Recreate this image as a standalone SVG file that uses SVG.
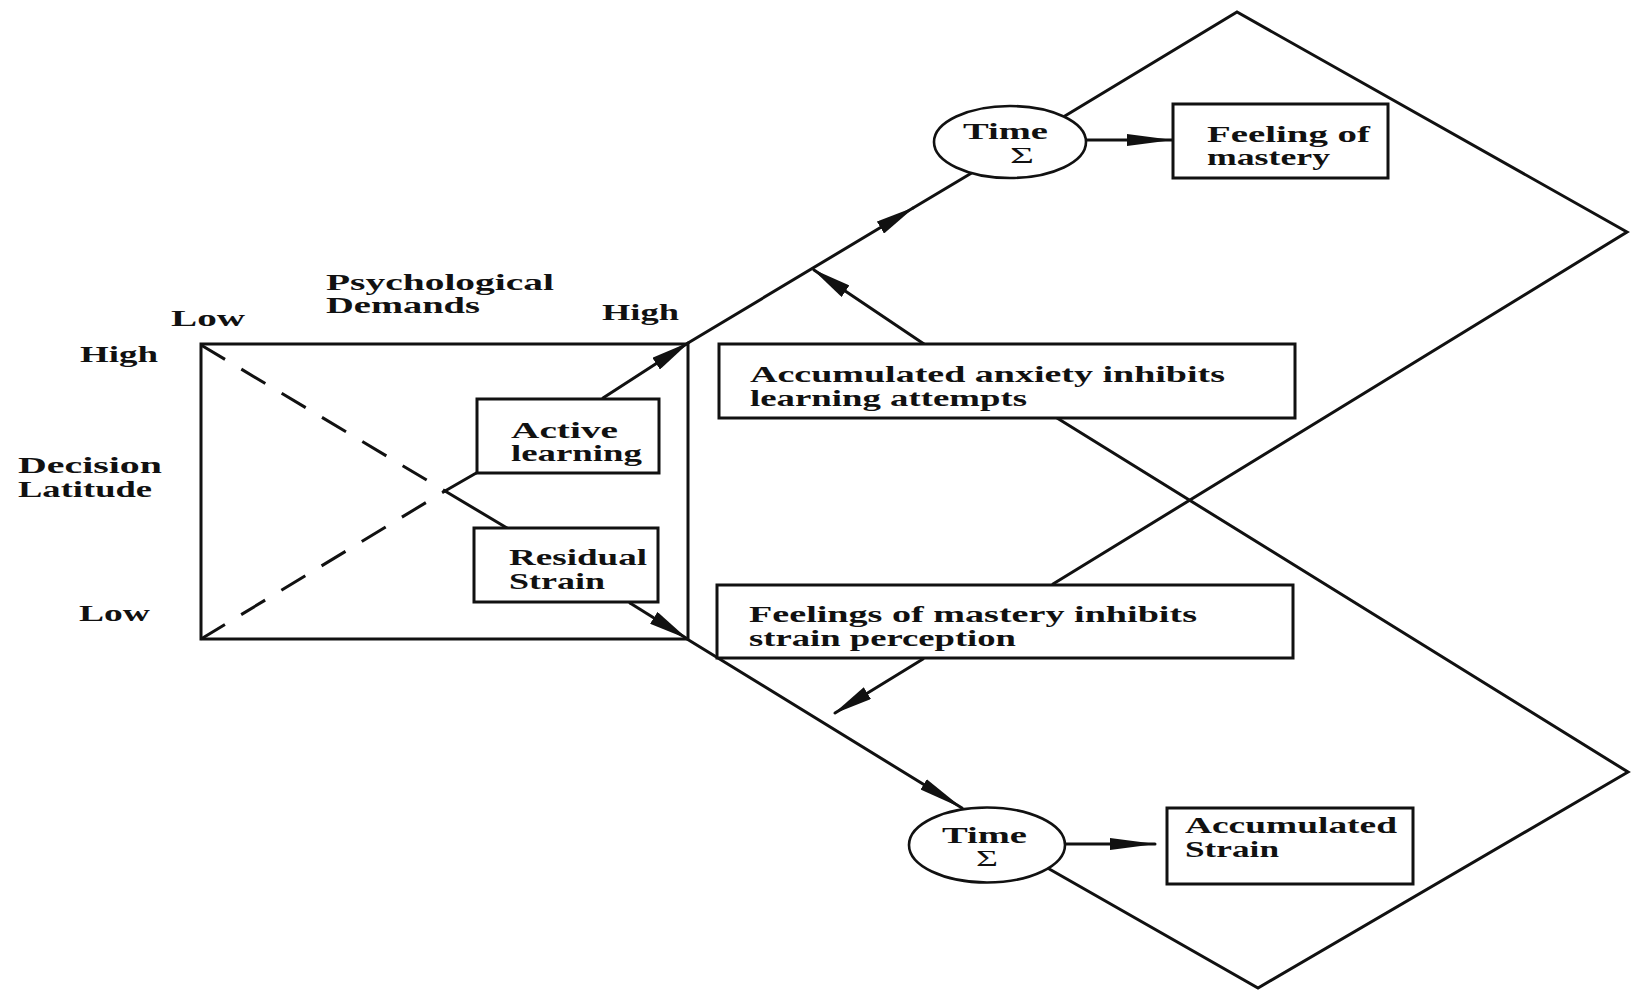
<svg xmlns="http://www.w3.org/2000/svg" width="1631" height="991" viewBox="0 0 1631 991">
<defs>
<style>
.ln{fill:none;stroke:#111;stroke-width:3;stroke-linecap:round;stroke-linejoin:miter}
.dash{fill:none;stroke:#111;stroke-width:3;stroke-dasharray:28 19}
.box{fill:#fff;stroke:#111;stroke-width:3}
.circ{fill:#fff;stroke:#111;stroke-width:2.6}
text{font-family:"Liberation Serif","Times New Roman",serif;font-size:23px;font-weight:bold;fill:#111}
text.sig{font-weight:normal}
</style>
<marker id="ah" markerUnits="userSpaceOnUse" markerWidth="40" markerHeight="14" refX="38" refY="7" orient="auto">
<path d="M0,0 L40,7 L0,14 z" fill="#111"/>
</marker>
<marker id="ahL" markerUnits="userSpaceOnUse" markerWidth="46" markerHeight="14" refX="45" refY="7" orient="auto">
<path d="M0,1 L46,7 L0,13 z" fill="#111"/>
</marker>
</defs>
<rect width="1631" height="991" fill="#fff"/>

<g id="connectors">
<path class="dash" d="M201,345 L445,491"/>
<path class="dash" d="M201,639 L445,491"/>
<path class="ln" d="M445,491 L507,528"/>
<path class="ln" d="M445,491 L478,472"/>
<path class="ln" d="M603,398 L688,343" marker-end="url(#ah)"/>
<path class="ln" d="M630,603 L686,638" marker-end="url(#ah)"/>
<path class="ln" d="M688,343 L913,208" marker-end="url(#ah)"/>
<path class="ln" d="M913,208 L985,165"/>
<path class="ln" d="M1050,125 L1237,12 L1627,232 L1053,584"/>
<path class="ln" d="M1057,418 L1628,772 L1258,988 L1030,858"/>
<path class="ln" d="M687,639 L962,808" marker-end="url(#ahL)"/>
<path class="ln" d="M924,344 L814,270" marker-end="url(#ah)"/>
<path class="ln" d="M923,659 L835,713" marker-end="url(#ah)"/>
<path class="ln" d="M1084,140 L1172,140" marker-end="url(#ahL)"/>
<path class="ln" d="M1065,844 L1155,844" marker-end="url(#ahL)"/>
</g>

<g id="grid">
<rect x="201" y="344" width="487" height="295" fill="none" stroke="#111" stroke-width="3"/>
<text x="171" y="326" textLength="74" lengthAdjust="spacingAndGlyphs">Low</text>
<text x="326" y="290" textLength="228" lengthAdjust="spacingAndGlyphs">Psychological</text>
<text x="326" y="313" textLength="154" lengthAdjust="spacingAndGlyphs">Demands</text>
<text x="602" y="320" textLength="77" lengthAdjust="spacingAndGlyphs">High</text>
<text x="80" y="362" textLength="78" lengthAdjust="spacingAndGlyphs">High</text>
<text x="18" y="473" textLength="144" lengthAdjust="spacingAndGlyphs">Decision</text>
<text x="18" y="497" textLength="134" lengthAdjust="spacingAndGlyphs">Latitude</text>
<text x="79" y="621" textLength="71" lengthAdjust="spacingAndGlyphs">Low</text>
</g>

<g id="active-learning">
<rect class="box" x="477" y="399" width="182" height="74"/>
<text x="511" y="438" textLength="107" lengthAdjust="spacingAndGlyphs">Active</text>
<text x="511" y="461" textLength="131" lengthAdjust="spacingAndGlyphs">learning</text>
</g>

<g id="residual-strain">
<rect class="box" x="474" y="528" width="184" height="74"/>
<text x="509" y="565" textLength="138" lengthAdjust="spacingAndGlyphs">Residual</text>
<text x="509" y="589" textLength="96" lengthAdjust="spacingAndGlyphs">Strain</text>
</g>

<g id="anxiety-inhibits">
<rect class="box" x="719" y="344" width="576" height="74"/>
<text x="750" y="382" textLength="475" lengthAdjust="spacingAndGlyphs">Accumulated anxiety inhibits</text>
<text x="750" y="406" textLength="277" lengthAdjust="spacingAndGlyphs">learning attempts</text>
</g>

<g id="mastery-inhibits">
<rect class="box" x="717" y="585" width="576" height="73"/>
<text x="749" y="622" textLength="448" lengthAdjust="spacingAndGlyphs">Feelings of mastery inhibits</text>
<text x="749" y="646" textLength="267" lengthAdjust="spacingAndGlyphs">strain perception</text>
</g>

<g id="time-top">
<ellipse class="circ" cx="1010" cy="142" rx="76" ry="36"/>
<text x="963" y="139" textLength="85" lengthAdjust="spacingAndGlyphs">Time</text>
<text class="sig" x="1010" y="163" textLength="24" lengthAdjust="spacingAndGlyphs">Σ</text>
</g>

<g id="feeling-of-mastery">
<rect class="box" x="1173" y="104" width="215" height="74"/>
<text x="1207" y="142" textLength="163" lengthAdjust="spacingAndGlyphs">Feeling of</text>
<text x="1207" y="165" textLength="123" lengthAdjust="spacingAndGlyphs">mastery</text>
</g>

<g id="time-bottom">
<ellipse class="circ" cx="987" cy="845" rx="78" ry="37.5"/>
<text x="942" y="843" textLength="85" lengthAdjust="spacingAndGlyphs">Time</text>
<text class="sig" x="976" y="866" textLength="22" lengthAdjust="spacingAndGlyphs">Σ</text>
</g>

<g id="accumulated-strain">
<rect class="box" x="1167" y="808" width="246" height="76"/>
<text x="1185" y="833" textLength="212" lengthAdjust="spacingAndGlyphs">Accumulated</text>
<text x="1185" y="857" textLength="94" lengthAdjust="spacingAndGlyphs">Strain</text>
</g>
</svg>
